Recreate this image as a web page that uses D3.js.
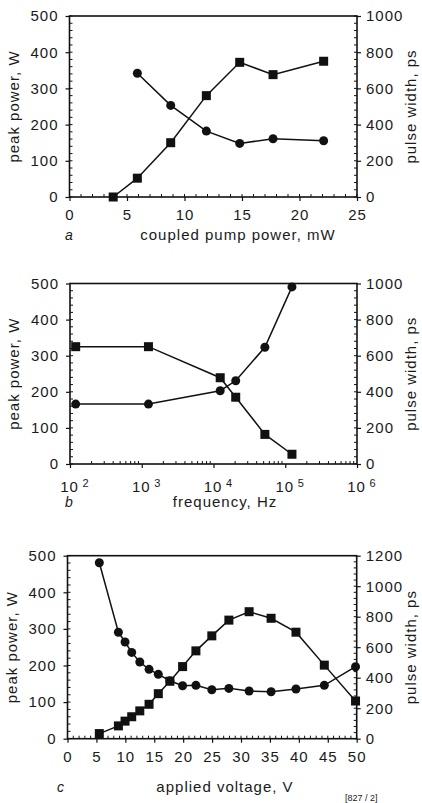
<!DOCTYPE html>
<html>
<head>
<meta charset="utf-8">
<script src="https://cdn.jsdelivr.net/npm/d3@7"></script>
<style>
  body { margin: 0; background: #fff; }
  text { font-family: "Liberation Sans", Arial, sans-serif; fill: #1a1a1a; }
</style>
</head>
<body>
<div id="chart"></div>
<script>
// panel a - coupled pump power
var aPumpPeak = [3.8, 5.9, 8.8, 11.9, 14.8, 17.7, 22.1];
var aPeak = [0, 52, 150, 280, 372, 338, 375];
var aPumpWidth = [5.9, 8.8, 11.9, 14.8, 17.7, 22.1];
var aWidth = [684, 506, 364, 296, 322, 311];

// panel b - frequency
var bFreq = [120, 1240, 12400, 20400, 52000, 124000];
var bPeak = [325, 325, 239, 185, 82, 27];
var bWidth = [332, 332, 406, 461, 647, 981];

// panel c - applied voltage
var cVolt = [5.5, 8.8, 9.95, 11.1, 12.5, 14.1, 15.7, 17.7, 19.9, 22.2, 24.95, 27.9, 31.4, 35.2, 39.5, 44.4, 49.8];
var cPeak = [14, 35, 48, 60, 76, 94, 123, 157, 197, 240, 281, 324, 347, 329, 291, 201, 103];
var cWidth = [1154, 698, 634, 566, 503, 455, 422, 380, 347, 350, 321, 330, 313, 308, 326, 350, 472];

var aXTicks = [0, 5, 10, 15, 20, 25];
var bXTicks = [100, 1000, 10000, 100000, 1000000];
var cXTicks = [0, 5, 10, 15, 20, 25, 30, 35, 40, 45, 50];
var peakTicks = [0, 100, 200, 300, 400, 500];
var widthTicksA = [0, 200, 400, 600, 800, 1000];
var widthTicksC = [0, 200, 400, 600, 800, 1000, 1200];

var svg = d3.select("#chart").append("svg")
    .attr("width", 422)
    .attr("height", 803);

function panel(cfg) {
    var g = svg.append("g");
    var x = cfg.x, yl = cfg.yl, yr = cfg.yr;
    var x0 = x.range()[0], x1 = x.range()[1];
    var y0 = yl.range()[0], y1 = yl.range()[1];

    // frame
    g.append("rect")
        .attr("x", x0).attr("y", y1)
        .attr("width", x1 - x0).attr("height", y0 - y1)
        .attr("fill", "none").attr("stroke", "#111").attr("stroke-width", 1.6);

    // minor ticks (inward)
    g.selectAll(".mxl").data(cfg.xMinor).enter().append("line")
        .attr("x1", function(d) { return x(d); }).attr("x2", function(d) { return x(d); })
        .attr("y1", y0).attr("y2", y0 - 3)
        .attr("stroke", "#111").attr("stroke-width", 1);
    g.selectAll(".myl").data(cfg.ylMinor).enter().append("line")
        .attr("x1", x0).attr("x2", x0 + 3)
        .attr("y1", function(d) { return yl(d); }).attr("y2", function(d) { return yl(d); })
        .attr("stroke", "#111").attr("stroke-width", 1);
    g.selectAll(".myr").data(cfg.yrMinor).enter().append("line")
        .attr("x1", x1).attr("x2", x1 - 3)
        .attr("y1", function(d) { return yr(d); }).attr("y2", function(d) { return yr(d); })
        .attr("stroke", "#111").attr("stroke-width", 1);

    // major axes
    var ax = g.append("g").attr("transform", "translate(0," + y0 + ")")
        .call(d3.axisBottom(x).tickValues(cfg.xTicks).tickSize(4).tickPadding(cfg.xPad)
            .tickFormat(d3.format("d")));
    var al = g.append("g").attr("transform", "translate(" + x0 + ",0)")
        .call(d3.axisLeft(yl).tickValues(peakTicks).tickSize(4).tickPadding(7)
            .tickFormat(d3.format("d")));
    var ar = g.append("g").attr("transform", "translate(" + x1 + ",0)")
        .call(d3.axisRight(yr).tickValues(cfg.yrTicks).tickSize(4).tickPadding(5)
            .tickFormat(d3.format("d")));
    [ax, al, ar].forEach(function(a) {
        a.select(".domain").remove();
        a.selectAll("line").attr("stroke", "#111").attr("stroke-width", 1.2);
        a.selectAll("text").style("font-size", "15px").style("letter-spacing", "1px").attr("fill", "#1a1a1a");
    });
    if (cfg.logX) {
        // "10" centred on the tick, exponent raised to its right
        ax.selectAll(".tick text").text("10").attr("dx", "-1px");
        ax.selectAll(".tick").append("text")
            .attr("x", 12).attr("y", 23)
            .attr("text-anchor", "start")
            .style("font-size", "11px")
            .attr("fill", "#1a1a1a")
            .text(function(d) { return Math.round(Math.log10(d)); });
    }

    // series lines + markers
    var lineL = d3.line().x(function(d) { return x(d[0]); }).y(function(d) { return yl(d[1]); });
    var lineR = d3.line().x(function(d) { return x(d[0]); }).y(function(d) { return yr(d[1]); });
    var sq = d3.zip(cfg.sqX, cfg.sqY);
    var ci = d3.zip(cfg.ciX, cfg.ciY);
    g.append("path").attr("d", lineL(sq)).attr("fill", "none").attr("stroke", "#111").attr("stroke-width", 1.5);
    g.append("path").attr("d", lineR(ci)).attr("fill", "none").attr("stroke", "#111").attr("stroke-width", 1.5);
    g.selectAll(".sq").data(sq).enter().append("rect")
        .attr("x", function(d) { return x(d[0]) - 4.5; })
        .attr("y", function(d) { return yl(d[1]) - 4.5; })
        .attr("width", 9).attr("height", 9).attr("fill", "#111");
    g.selectAll(".ci").data(ci).enter().append("circle")
        .attr("cx", function(d) { return x(d[0]); })
        .attr("cy", function(d) { return yr(d[1]); })
        .attr("r", 4.5).attr("fill", "#111");

    // axis titles
    var ym = (y0 + y1) / 2;
    g.append("text").attr("transform", "translate(" + (x0 - 51) + "," + ym + ") rotate(-90)")
        .attr("text-anchor", "middle").style("font-size", "15px").style("letter-spacing", "1px")
        .text("peak power, W");
    g.append("text").attr("transform", "translate(" + (x1 + 59) + "," + ym + ") rotate(-90)")
        .attr("text-anchor", "middle").style("font-size", "15px").style("letter-spacing", "1px")
        .text("pulse width, ps");
    g.append("text").attr("x", cfg.letterX).attr("y", cfg.titleY)
        .style("font-size", "14px").style("font-style", "italic").text(cfg.letter);
    g.append("text").attr("x", cfg.titleX).attr("y", cfg.titleY)
        .attr("text-anchor", "middle").style("font-size", "15px").style("letter-spacing", "1px")
        .text(cfg.title);
}

function range(a, b, s) { return d3.range(a, b + s / 2, s); }

// a
panel({
    x: d3.scaleLinear().domain([0, 25]).range([69.5, 357]),
    yl: d3.scaleLinear().domain([0, 500]).range([197, 16]),
    yr: d3.scaleLinear().domain([0, 1000]).range([197, 16]),
    xTicks: aXTicks, yrTicks: widthTicksA, xPad: 8,
    xMinor: range(0, 25, 1), ylMinor: range(0, 500, 20), yrMinor: range(0, 1000, 40),
    sqX: aPumpPeak, sqY: aPeak, ciX: aPumpWidth, ciY: aWidth,
    letter: "a", letterX: 65, title: "coupled  pump power, mW", titleX: 238, titleY: 240
});

// b
var bMinor = [];
[100, 1000, 10000, 100000].forEach(function(p) {
    for (var k = 2; k <= 9; k++) bMinor.push(p * k);
});
panel({
    x: d3.scaleLog().domain([100, 1000000]).range([70, 357]),
    yl: d3.scaleLinear().domain([0, 500]).range([464, 283.5]),
    yr: d3.scaleLinear().domain([0, 1000]).range([464, 283.5]),
    logX: true,
    xTicks: bXTicks, yrTicks: widthTicksA, xPad: 13,
    xMinor: bMinor, ylMinor: range(0, 500, 20), yrMinor: range(0, 1000, 40),
    sqX: bFreq, sqY: bPeak, ciX: bFreq, ciY: bWidth,
    letter: "b", letterX: 65, title: "frequency, Hz", titleX: 225, titleY: 507
});

// c
panel({
    x: d3.scaleLinear().domain([0, 50]).range([67.5, 356.7]),
    yl: d3.scaleLinear().domain([0, 500]).range([738.7, 555.7]),
    yr: d3.scaleLinear().domain([0, 1200]).range([738.7, 555.7]),
    xTicks: cXTicks, yrTicks: widthTicksC, xPad: 8.5,
    xMinor: range(0, 50, 1), ylMinor: range(0, 500, 20), yrMinor: range(0, 1200, 40),
    sqX: cVolt, sqY: cPeak, ciX: cVolt, ciY: cWidth,
    letter: "c", letterX: 57, title: "applied voltage, V", titleX: 225, titleY: 792
});

svg.append("text").attr("x", 345).attr("y", 801)
    .style("font-size", "9px").text("[827 / 2]");
</script>
</body>
</html>
